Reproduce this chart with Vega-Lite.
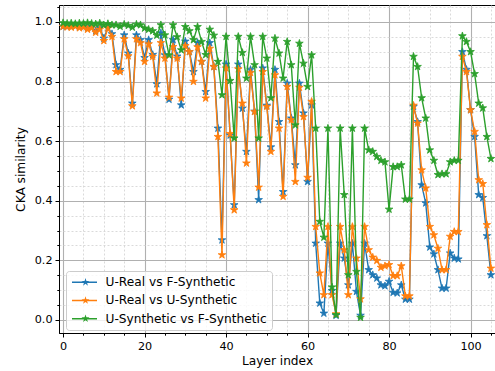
{
"$schema": "https://vega.github.io/schema/vega-lite/v6.json",
"width": 436, "height": 328,
"autosize": {"type": "none"},
"padding": {"left": 59, "top": 5, "right": 0, "bottom": 38},
"config": {
  "font": "DejaVu Sans",
  "view": {"stroke": "#000000", "strokeWidth": 1},
  "axis": {"domainColor": "#000000", "tickColor": "#000000", "labelColor": "#000000", "titleColor": "#000000", "labelFontSize": 11.2, "titleFontSize": 12.2, "titleFontWeight": "normal", "labelFont": "DejaVu Sans", "titleFont": "DejaVu Sans", "domainWidth": 1, "tickWidth": 1, "labelOverlap": false, "labelFlush": false}
},
"data": {"values": [
{"layer":0,"series":"U-Real vs F-Synthetic","cka":0.985},{"layer":1,"series":"U-Real vs F-Synthetic","cka":0.985},{"layer":2,"series":"U-Real vs F-Synthetic","cka":0.985},{"layer":3,"series":"U-Real vs F-Synthetic","cka":0.987},{"layer":4,"series":"U-Real vs F-Synthetic","cka":0.983},{"layer":5,"series":"U-Real vs F-Synthetic","cka":0.985},{"layer":6,"series":"U-Real vs F-Synthetic","cka":0.98},{"layer":7,"series":"U-Real vs F-Synthetic","cka":0.983},{"layer":8,"series":"U-Real vs F-Synthetic","cka":0.97},{"layer":9,"series":"U-Real vs F-Synthetic","cka":0.98},
{"layer":10,"series":"U-Real vs F-Synthetic","cka":0.945},{"layer":11,"series":"U-Real vs F-Synthetic","cka":0.98},{"layer":12,"series":"U-Real vs F-Synthetic","cka":0.96},{"layer":13,"series":"U-Real vs F-Synthetic","cka":0.856},{"layer":14,"series":"U-Real vs F-Synthetic","cka":0.84},{"layer":15,"series":"U-Real vs F-Synthetic","cka":0.956},{"layer":16,"series":"U-Real vs F-Synthetic","cka":0.895},{"layer":17,"series":"U-Real vs F-Synthetic","cka":0.727},{"layer":18,"series":"U-Real vs F-Synthetic","cka":0.956},{"layer":19,"series":"U-Real vs F-Synthetic","cka":0.94},
{"layer":20,"series":"U-Real vs F-Synthetic","cka":0.88},{"layer":21,"series":"U-Real vs F-Synthetic","cka":0.94},{"layer":22,"series":"U-Real vs F-Synthetic","cka":0.89},{"layer":23,"series":"U-Real vs F-Synthetic","cka":0.792},{"layer":24,"series":"U-Real vs F-Synthetic","cka":0.963},{"layer":25,"series":"U-Real vs F-Synthetic","cka":0.889},{"layer":26,"series":"U-Real vs F-Synthetic","cka":0.74},{"layer":27,"series":"U-Real vs F-Synthetic","cka":0.94},{"layer":28,"series":"U-Real vs F-Synthetic","cka":0.885},{"layer":29,"series":"U-Real vs F-Synthetic","cka":0.721},
{"layer":30,"series":"U-Real vs F-Synthetic","cka":0.935},{"layer":31,"series":"U-Real vs F-Synthetic","cka":0.9},{"layer":32,"series":"U-Real vs F-Synthetic","cka":0.833},{"layer":33,"series":"U-Real vs F-Synthetic","cka":0.93},{"layer":34,"series":"U-Real vs F-Synthetic","cka":0.867},{"layer":35,"series":"U-Real vs F-Synthetic","cka":0.766},{"layer":36,"series":"U-Real vs F-Synthetic","cka":0.93},{"layer":37,"series":"U-Real vs F-Synthetic","cka":0.85},{"layer":38,"series":"U-Real vs F-Synthetic","cka":0.643},{"layer":39,"series":"U-Real vs F-Synthetic","cka":0.268},
{"layer":40,"series":"U-Real vs F-Synthetic","cka":0.858},{"layer":41,"series":"U-Real vs F-Synthetic","cka":0.62},{"layer":42,"series":"U-Real vs F-Synthetic","cka":0.386},{"layer":43,"series":"U-Real vs F-Synthetic","cka":0.858},{"layer":44,"series":"U-Real vs F-Synthetic","cka":0.71},{"layer":45,"series":"U-Real vs F-Synthetic","cka":0.565},{"layer":46,"series":"U-Real vs F-Synthetic","cka":0.84},{"layer":47,"series":"U-Real vs F-Synthetic","cka":0.7},{"layer":48,"series":"U-Real vs F-Synthetic","cka":0.403},{"layer":49,"series":"U-Real vs F-Synthetic","cka":0.845},
{"layer":50,"series":"U-Real vs F-Synthetic","cka":0.72},{"layer":51,"series":"U-Real vs F-Synthetic","cka":0.58},{"layer":52,"series":"U-Real vs F-Synthetic","cka":0.84},{"layer":53,"series":"U-Real vs F-Synthetic","cka":0.665},{"layer":54,"series":"U-Real vs F-Synthetic","cka":0.43},{"layer":55,"series":"U-Real vs F-Synthetic","cka":0.794},{"layer":56,"series":"U-Real vs F-Synthetic","cka":0.677},{"layer":57,"series":"U-Real vs F-Synthetic","cka":0.52},{"layer":58,"series":"U-Real vs F-Synthetic","cka":0.794},{"layer":59,"series":"U-Real vs F-Synthetic","cka":0.694},
{"layer":60,"series":"U-Real vs F-Synthetic","cka":0.464},{"layer":61,"series":"U-Real vs F-Synthetic","cka":0.721},{"layer":62,"series":"U-Real vs F-Synthetic","cka":0.257},{"layer":63,"series":"U-Real vs F-Synthetic","cka":0.056},{"layer":64,"series":"U-Real vs F-Synthetic","cka":0.022},{"layer":65,"series":"U-Real vs F-Synthetic","cka":0.257},{"layer":66,"series":"U-Real vs F-Synthetic","cka":0.098},{"layer":67,"series":"U-Real vs F-Synthetic","cka":0.015},{"layer":68,"series":"U-Real vs F-Synthetic","cka":0.257},{"layer":69,"series":"U-Real vs F-Synthetic","cka":0.207},
{"layer":70,"series":"U-Real vs F-Synthetic","cka":0.117},{"layer":71,"series":"U-Real vs F-Synthetic","cka":0.257},{"layer":72,"series":"U-Real vs F-Synthetic","cka":0.095},{"layer":73,"series":"U-Real vs F-Synthetic","cka":0.015},{"layer":74,"series":"U-Real vs F-Synthetic","cka":0.257},{"layer":75,"series":"U-Real vs F-Synthetic","cka":0.168},{"layer":76,"series":"U-Real vs F-Synthetic","cka":0.151},{"layer":77,"series":"U-Real vs F-Synthetic","cka":0.14},{"layer":78,"series":"U-Real vs F-Synthetic","cka":0.117},{"layer":79,"series":"U-Real vs F-Synthetic","cka":0.114},
{"layer":80,"series":"U-Real vs F-Synthetic","cka":0.129},{"layer":81,"series":"U-Real vs F-Synthetic","cka":0.092},{"layer":82,"series":"U-Real vs F-Synthetic","cka":0.09},{"layer":83,"series":"U-Real vs F-Synthetic","cka":0.117},{"layer":84,"series":"U-Real vs F-Synthetic","cka":0.069},{"layer":85,"series":"U-Real vs F-Synthetic","cka":0.069},{"layer":86,"series":"U-Real vs F-Synthetic","cka":0.716},{"layer":87,"series":"U-Real vs F-Synthetic","cka":0.665},{"layer":88,"series":"U-Real vs F-Synthetic","cka":0.453},{"layer":89,"series":"U-Real vs F-Synthetic","cka":0.392},
{"layer":90,"series":"U-Real vs F-Synthetic","cka":0.244},{"layer":91,"series":"U-Real vs F-Synthetic","cka":0.221},{"layer":92,"series":"U-Real vs F-Synthetic","cka":0.168},{"layer":93,"series":"U-Real vs F-Synthetic","cka":0.106},{"layer":94,"series":"U-Real vs F-Synthetic","cka":0.106},{"layer":95,"series":"U-Real vs F-Synthetic","cka":0.224},{"layer":96,"series":"U-Real vs F-Synthetic","cka":0.207},{"layer":97,"series":"U-Real vs F-Synthetic","cka":0.204},{"layer":98,"series":"U-Real vs F-Synthetic","cka":0.9},{"layer":99,"series":"U-Real vs F-Synthetic","cka":0.84},
{"layer":100,"series":"U-Real vs F-Synthetic","cka":0.705},{"layer":101,"series":"U-Real vs F-Synthetic","cka":0.615},{"layer":102,"series":"U-Real vs F-Synthetic","cka":0.42},{"layer":103,"series":"U-Real vs F-Synthetic","cka":0.41},{"layer":104,"series":"U-Real vs F-Synthetic","cka":0.282},{"layer":105,"series":"U-Real vs F-Synthetic","cka":0.151},
{"layer":0,"series":"U-Real vs U-Synthetic","cka":0.985},{"layer":1,"series":"U-Real vs U-Synthetic","cka":0.983},{"layer":2,"series":"U-Real vs U-Synthetic","cka":0.982},{"layer":3,"series":"U-Real vs U-Synthetic","cka":0.985},{"layer":4,"series":"U-Real vs U-Synthetic","cka":0.98},{"layer":5,"series":"U-Real vs U-Synthetic","cka":0.982},{"layer":6,"series":"U-Real vs U-Synthetic","cka":0.975},{"layer":7,"series":"U-Real vs U-Synthetic","cka":0.98},{"layer":8,"series":"U-Real vs U-Synthetic","cka":0.965},{"layer":9,"series":"U-Real vs U-Synthetic","cka":0.975},
{"layer":10,"series":"U-Real vs U-Synthetic","cka":0.937},{"layer":11,"series":"U-Real vs U-Synthetic","cka":0.979},{"layer":12,"series":"U-Real vs U-Synthetic","cka":0.951},{"layer":13,"series":"U-Real vs U-Synthetic","cka":0.833},{"layer":14,"series":"U-Real vs U-Synthetic","cka":0.833},{"layer":15,"series":"U-Real vs U-Synthetic","cka":0.943},{"layer":16,"series":"U-Real vs U-Synthetic","cka":0.886},{"layer":17,"series":"U-Real vs U-Synthetic","cka":0.718},{"layer":18,"series":"U-Real vs U-Synthetic","cka":0.943},{"layer":19,"series":"U-Real vs U-Synthetic","cka":0.93},
{"layer":20,"series":"U-Real vs U-Synthetic","cka":0.867},{"layer":21,"series":"U-Real vs U-Synthetic","cka":0.926},{"layer":22,"series":"U-Real vs U-Synthetic","cka":0.884},{"layer":23,"series":"U-Real vs U-Synthetic","cka":0.761},{"layer":24,"series":"U-Real vs U-Synthetic","cka":0.93},{"layer":25,"series":"U-Real vs U-Synthetic","cka":0.878},{"layer":26,"series":"U-Real vs U-Synthetic","cka":0.747},{"layer":27,"series":"U-Real vs U-Synthetic","cka":0.917},{"layer":28,"series":"U-Real vs U-Synthetic","cka":0.878},{"layer":29,"series":"U-Real vs U-Synthetic","cka":0.744},
{"layer":30,"series":"U-Real vs U-Synthetic","cka":0.92},{"layer":31,"series":"U-Real vs U-Synthetic","cka":0.9},{"layer":32,"series":"U-Real vs U-Synthetic","cka":0.8},{"layer":33,"series":"U-Real vs U-Synthetic","cka":0.916},{"layer":34,"series":"U-Real vs U-Synthetic","cka":0.867},{"layer":35,"series":"U-Real vs U-Synthetic","cka":0.744},{"layer":36,"series":"U-Real vs U-Synthetic","cka":0.911},{"layer":37,"series":"U-Real vs U-Synthetic","cka":0.85},{"layer":38,"series":"U-Real vs U-Synthetic","cka":0.615},{"layer":39,"series":"U-Real vs U-Synthetic","cka":0.218},
{"layer":40,"series":"U-Real vs U-Synthetic","cka":0.845},{"layer":41,"series":"U-Real vs U-Synthetic","cka":0.625},{"layer":42,"series":"U-Real vs U-Synthetic","cka":0.369},{"layer":43,"series":"U-Real vs U-Synthetic","cka":0.842},{"layer":44,"series":"U-Real vs U-Synthetic","cka":0.727},{"layer":45,"series":"U-Real vs U-Synthetic","cka":0.526},{"layer":46,"series":"U-Real vs U-Synthetic","cka":0.83},{"layer":47,"series":"U-Real vs U-Synthetic","cka":0.699},{"layer":48,"series":"U-Real vs U-Synthetic","cka":0.445},{"layer":49,"series":"U-Real vs U-Synthetic","cka":0.833},
{"layer":50,"series":"U-Real vs U-Synthetic","cka":0.716},{"layer":51,"series":"U-Real vs U-Synthetic","cka":0.565},{"layer":52,"series":"U-Real vs U-Synthetic","cka":0.822},{"layer":53,"series":"U-Real vs U-Synthetic","cka":0.643},{"layer":54,"series":"U-Real vs U-Synthetic","cka":0.414},{"layer":55,"series":"U-Real vs U-Synthetic","cka":0.783},{"layer":56,"series":"U-Real vs U-Synthetic","cka":0.671},{"layer":57,"series":"U-Real vs U-Synthetic","cka":0.464},{"layer":58,"series":"U-Real vs U-Synthetic","cka":0.78},{"layer":59,"series":"U-Real vs U-Synthetic","cka":0.682},
{"layer":60,"series":"U-Real vs U-Synthetic","cka":0.478},{"layer":61,"series":"U-Real vs U-Synthetic","cka":0.733},{"layer":62,"series":"U-Real vs U-Synthetic","cka":0.313},{"layer":63,"series":"U-Real vs U-Synthetic","cka":0.157},{"layer":64,"series":"U-Real vs U-Synthetic","cka":0.084},{"layer":65,"series":"U-Real vs U-Synthetic","cka":0.313},{"layer":66,"series":"U-Real vs U-Synthetic","cka":0.084},{"layer":67,"series":"U-Real vs U-Synthetic","cka":0.02},{"layer":68,"series":"U-Real vs U-Synthetic","cka":0.313},{"layer":69,"series":"U-Real vs U-Synthetic","cka":0.235},
{"layer":70,"series":"U-Real vs U-Synthetic","cka":0.084},{"layer":71,"series":"U-Real vs U-Synthetic","cka":0.313},{"layer":72,"series":"U-Real vs U-Synthetic","cka":0.207},{"layer":73,"series":"U-Real vs U-Synthetic","cka":0.07},{"layer":74,"series":"U-Real vs U-Synthetic","cka":0.313},{"layer":75,"series":"U-Real vs U-Synthetic","cka":0.235},{"layer":76,"series":"U-Real vs U-Synthetic","cka":0.21},{"layer":77,"series":"U-Real vs U-Synthetic","cka":0.199},{"layer":78,"series":"U-Real vs U-Synthetic","cka":0.176},{"layer":79,"series":"U-Real vs U-Synthetic","cka":0.181},
{"layer":80,"series":"U-Real vs U-Synthetic","cka":0.185},{"layer":81,"series":"U-Real vs U-Synthetic","cka":0.148},{"layer":82,"series":"U-Real vs U-Synthetic","cka":0.148},{"layer":83,"series":"U-Real vs U-Synthetic","cka":0.181},{"layer":84,"series":"U-Real vs U-Synthetic","cka":0.08},{"layer":85,"series":"U-Real vs U-Synthetic","cka":0.08},{"layer":86,"series":"U-Real vs U-Synthetic","cka":0.72},{"layer":87,"series":"U-Real vs U-Synthetic","cka":0.66},{"layer":88,"series":"U-Real vs U-Synthetic","cka":0.503},{"layer":89,"series":"U-Real vs U-Synthetic","cka":0.442},
{"layer":90,"series":"U-Real vs U-Synthetic","cka":0.313},{"layer":91,"series":"U-Real vs U-Synthetic","cka":0.285},{"layer":92,"series":"U-Real vs U-Synthetic","cka":0.24},{"layer":93,"series":"U-Real vs U-Synthetic","cka":0.168},{"layer":94,"series":"U-Real vs U-Synthetic","cka":0.168},{"layer":95,"series":"U-Real vs U-Synthetic","cka":0.28},{"layer":96,"series":"U-Real vs U-Synthetic","cka":0.296},{"layer":97,"series":"U-Real vs U-Synthetic","cka":0.296},{"layer":98,"series":"U-Real vs U-Synthetic","cka":0.884},{"layer":99,"series":"U-Real vs U-Synthetic","cka":0.833},
{"layer":100,"series":"U-Real vs U-Synthetic","cka":0.705},{"layer":101,"series":"U-Real vs U-Synthetic","cka":0.632},{"layer":102,"series":"U-Real vs U-Synthetic","cka":0.47},{"layer":103,"series":"U-Real vs U-Synthetic","cka":0.457},{"layer":104,"series":"U-Real vs U-Synthetic","cka":0.319},{"layer":105,"series":"U-Real vs U-Synthetic","cka":0.173},
{"layer":0,"series":"U-Synthetic vs F-Synthetic","cka":0.997},{"layer":1,"series":"U-Synthetic vs F-Synthetic","cka":0.995},{"layer":2,"series":"U-Synthetic vs F-Synthetic","cka":0.996},{"layer":3,"series":"U-Synthetic vs F-Synthetic","cka":0.994},{"layer":4,"series":"U-Synthetic vs F-Synthetic","cka":0.996},{"layer":5,"series":"U-Synthetic vs F-Synthetic","cka":0.995},{"layer":6,"series":"U-Synthetic vs F-Synthetic","cka":0.997},{"layer":7,"series":"U-Synthetic vs F-Synthetic","cka":0.995},{"layer":8,"series":"U-Synthetic vs F-Synthetic","cka":0.993},{"layer":9,"series":"U-Synthetic vs F-Synthetic","cka":0.996},
{"layer":10,"series":"U-Synthetic vs F-Synthetic","cka":0.99},{"layer":11,"series":"U-Synthetic vs F-Synthetic","cka":0.994},{"layer":12,"series":"U-Synthetic vs F-Synthetic","cka":0.99},{"layer":13,"series":"U-Synthetic vs F-Synthetic","cka":0.99},{"layer":14,"series":"U-Synthetic vs F-Synthetic","cka":0.985},{"layer":15,"series":"U-Synthetic vs F-Synthetic","cka":0.992},{"layer":16,"series":"U-Synthetic vs F-Synthetic","cka":0.988},{"layer":17,"series":"U-Synthetic vs F-Synthetic","cka":0.982},{"layer":18,"series":"U-Synthetic vs F-Synthetic","cka":0.992},{"layer":19,"series":"U-Synthetic vs F-Synthetic","cka":0.99},
{"layer":20,"series":"U-Synthetic vs F-Synthetic","cka":0.979},{"layer":21,"series":"U-Synthetic vs F-Synthetic","cka":0.975},{"layer":22,"series":"U-Synthetic vs F-Synthetic","cka":0.97},{"layer":23,"series":"U-Synthetic vs F-Synthetic","cka":0.955},{"layer":24,"series":"U-Synthetic vs F-Synthetic","cka":0.99},{"layer":25,"series":"U-Synthetic vs F-Synthetic","cka":0.956},{"layer":26,"series":"U-Synthetic vs F-Synthetic","cka":0.889},{"layer":27,"series":"U-Synthetic vs F-Synthetic","cka":0.99},{"layer":28,"series":"U-Synthetic vs F-Synthetic","cka":0.95},{"layer":29,"series":"U-Synthetic vs F-Synthetic","cka":0.906},
{"layer":30,"series":"U-Synthetic vs F-Synthetic","cka":0.984},{"layer":31,"series":"U-Synthetic vs F-Synthetic","cka":0.97},{"layer":32,"series":"U-Synthetic vs F-Synthetic","cka":0.94},{"layer":33,"series":"U-Synthetic vs F-Synthetic","cka":0.984},{"layer":34,"series":"U-Synthetic vs F-Synthetic","cka":0.934},{"layer":35,"series":"U-Synthetic vs F-Synthetic","cka":0.89},{"layer":36,"series":"U-Synthetic vs F-Synthetic","cka":0.975},{"layer":37,"series":"U-Synthetic vs F-Synthetic","cka":0.955},{"layer":38,"series":"U-Synthetic vs F-Synthetic","cka":0.867},{"layer":39,"series":"U-Synthetic vs F-Synthetic","cka":0.755},
{"layer":40,"series":"U-Synthetic vs F-Synthetic","cka":0.951},{"layer":41,"series":"U-Synthetic vs F-Synthetic","cka":0.803},{"layer":42,"series":"U-Synthetic vs F-Synthetic","cka":0.61},{"layer":43,"series":"U-Synthetic vs F-Synthetic","cka":0.951},{"layer":44,"series":"U-Synthetic vs F-Synthetic","cka":0.897},{"layer":45,"series":"U-Synthetic vs F-Synthetic","cka":0.811},{"layer":46,"series":"U-Synthetic vs F-Synthetic","cka":0.951},{"layer":47,"series":"U-Synthetic vs F-Synthetic","cka":0.856},{"layer":48,"series":"U-Synthetic vs F-Synthetic","cka":0.61},{"layer":49,"series":"U-Synthetic vs F-Synthetic","cka":0.951},
{"layer":50,"series":"U-Synthetic vs F-Synthetic","cka":0.878},{"layer":51,"series":"U-Synthetic vs F-Synthetic","cka":0.745},{"layer":52,"series":"U-Synthetic vs F-Synthetic","cka":0.945},{"layer":53,"series":"U-Synthetic vs F-Synthetic","cka":0.895},{"layer":54,"series":"U-Synthetic vs F-Synthetic","cka":0.811},{"layer":55,"series":"U-Synthetic vs F-Synthetic","cka":0.934},{"layer":56,"series":"U-Synthetic vs F-Synthetic","cka":0.856},{"layer":57,"series":"U-Synthetic vs F-Synthetic","cka":0.654},{"layer":58,"series":"U-Synthetic vs F-Synthetic","cka":0.928},{"layer":59,"series":"U-Synthetic vs F-Synthetic","cka":0.861},
{"layer":60,"series":"U-Synthetic vs F-Synthetic","cka":0.783},{"layer":61,"series":"U-Synthetic vs F-Synthetic","cka":0.889},{"layer":62,"series":"U-Synthetic vs F-Synthetic","cka":0.643},{"layer":63,"series":"U-Synthetic vs F-Synthetic","cka":0.33},{"layer":64,"series":"U-Synthetic vs F-Synthetic","cka":0.277},{"layer":65,"series":"U-Synthetic vs F-Synthetic","cka":0.643},{"layer":66,"series":"U-Synthetic vs F-Synthetic","cka":0.11},{"layer":67,"series":"U-Synthetic vs F-Synthetic","cka":0.017},{"layer":68,"series":"U-Synthetic vs F-Synthetic","cka":0.643},{"layer":69,"series":"U-Synthetic vs F-Synthetic","cka":0.42},
{"layer":70,"series":"U-Synthetic vs F-Synthetic","cka":0.151},{"layer":71,"series":"U-Synthetic vs F-Synthetic","cka":0.643},{"layer":72,"series":"U-Synthetic vs F-Synthetic","cka":0.162},{"layer":73,"series":"U-Synthetic vs F-Synthetic","cka":0.008},{"layer":74,"series":"U-Synthetic vs F-Synthetic","cka":0.643},{"layer":75,"series":"U-Synthetic vs F-Synthetic","cka":0.57},{"layer":76,"series":"U-Synthetic vs F-Synthetic","cka":0.565},{"layer":77,"series":"U-Synthetic vs F-Synthetic","cka":0.548},{"layer":78,"series":"U-Synthetic vs F-Synthetic","cka":0.535},{"layer":79,"series":"U-Synthetic vs F-Synthetic","cka":0.53},
{"layer":80,"series":"U-Synthetic vs F-Synthetic","cka":0.371},{"layer":81,"series":"U-Synthetic vs F-Synthetic","cka":0.514},{"layer":82,"series":"U-Synthetic vs F-Synthetic","cka":0.514},{"layer":83,"series":"U-Synthetic vs F-Synthetic","cka":0.52},{"layer":84,"series":"U-Synthetic vs F-Synthetic","cka":0.405},{"layer":85,"series":"U-Synthetic vs F-Synthetic","cka":0.405},{"layer":86,"series":"U-Synthetic vs F-Synthetic","cka":0.884},{"layer":87,"series":"U-Synthetic vs F-Synthetic","cka":0.85},{"layer":88,"series":"U-Synthetic vs F-Synthetic","cka":0.745},{"layer":89,"series":"U-Synthetic vs F-Synthetic","cka":0.677},
{"layer":90,"series":"U-Synthetic vs F-Synthetic","cka":0.57},{"layer":91,"series":"U-Synthetic vs F-Synthetic","cka":0.535},{"layer":92,"series":"U-Synthetic vs F-Synthetic","cka":0.487},{"layer":93,"series":"U-Synthetic vs F-Synthetic","cka":0.49},{"layer":94,"series":"U-Synthetic vs F-Synthetic","cka":0.49},{"layer":95,"series":"U-Synthetic vs F-Synthetic","cka":0.53},{"layer":96,"series":"U-Synthetic vs F-Synthetic","cka":0.535},{"layer":97,"series":"U-Synthetic vs F-Synthetic","cka":0.535},{"layer":98,"series":"U-Synthetic vs F-Synthetic","cka":0.953},{"layer":99,"series":"U-Synthetic vs F-Synthetic","cka":0.934},
{"layer":100,"series":"U-Synthetic vs F-Synthetic","cka":0.9},{"layer":101,"series":"U-Synthetic vs F-Synthetic","cka":0.826},{"layer":102,"series":"U-Synthetic vs F-Synthetic","cka":0.727},{"layer":103,"series":"U-Synthetic vs F-Synthetic","cka":0.711},{"layer":104,"series":"U-Synthetic vs F-Synthetic","cka":0.615},{"layer":105,"series":"U-Synthetic vs F-Synthetic","cka":0.541}
]},
"encoding": {
  "x": {"field": "layer", "type": "quantitative",
    "scale": {"domain": [-1, 106], "nice": false, "zero": false},
    "axis": {"title": "Layer index", "values": [0,5,10,15,20,25,30,35,40,45,50,55,60,65,70,75,80,85,90,95,100,105],
      "labelExpr": "datum.value % 20 === 0 ? datum.label : ''", "format": "d",
      "grid": true,
      "gridColor": {"condition": {"test": "datum.value % 20 === 0", "value": "#b0b0b0"}, "value": "#d6d6d6"},
      "gridDash": {"condition": {"test": "datum.value % 20 === 0", "value": []}, "value": [2, 2]},
      "gridWidth": {"condition": {"test": "datum.value % 20 === 0", "value": 1.1}, "value": 0.9},
      "tickSize": {"condition": {"test": "datum.value % 20 === 0", "value": 4}, "value": 2.2},
      "labelPadding": 3, "titlePadding": 3}},
  "y": {"field": "cka", "type": "quantitative",
    "scale": {"domain": [-0.044, 1.057], "nice": false, "zero": false},
    "axis": {"title": "CKA similarity", "values": [0,0.05,0.1,0.15,0.2,0.25,0.3,0.35,0.4,0.45,0.5,0.55,0.6,0.65,0.7,0.75,0.8,0.85,0.9,0.95,1.0,1.05],
      "labelExpr": "abs(datum.value*5 - round(datum.value*5)) < 0.001 ? format(datum.value, '.1f') : ''",
      "grid": true,
      "gridColor": {"condition": {"test": "abs(datum.value*5 - round(datum.value*5)) < 0.001", "value": "#b0b0b0"}, "value": "#d6d6d6"},
      "gridDash": {"condition": {"test": "abs(datum.value*5 - round(datum.value*5)) < 0.001", "value": []}, "value": [2, 2]},
      "gridWidth": {"condition": {"test": "abs(datum.value*5 - round(datum.value*5)) < 0.001", "value": 1.1}, "value": 0.9},
      "tickSize": {"condition": {"test": "abs(datum.value*5 - round(datum.value*5)) < 0.001", "value": 4}, "value": 2.2},
      "labelPadding": 3, "titlePadding": 7}}
},
"layer": [
  {"transform": [{"filter": "datum.series === 'U-Real vs F-Synthetic'"}],
   "mark": {"type": "line", "strokeWidth": 1.4},
   "encoding": {"stroke": {"field": "series", "type": "nominal",
     "scale": {"domain": ["U-Real vs F-Synthetic", "U-Real vs U-Synthetic", "U-Synthetic vs F-Synthetic"], "range": ["#1f77b4", "#ff7f0e", "#2ca02c"]},
     "legend": {"title": null, "orient": "none", "legendX": 7, "legendY": 266, "zindex": 1, "symbolType": "stroke", "symbolSize": 625, "symbolStrokeWidth": 1.5, "labelFontSize": 12.2, "labelFont": "DejaVu Sans", "labelColor": "#000000", "labelLimit": 400, "labelOffset": 7.5, "padding": 5, "clipHeight": 12.5, "rowPadding": 5.2, "fillColor": "rgba(255,255,255,0.8)", "strokeColor": "#cccccc", "cornerRadius": 3}}}},
  {"transform": [{"filter": "datum.series === 'U-Real vs F-Synthetic'"}],
   "mark": {"type": "point", "shape": "M0,-1L0.2245,-0.309L0.951,-0.309L0.363,0.118L0.588,0.809L0,0.382L-0.588,0.809L-0.363,0.118L-0.951,-0.309L-0.2245,-0.309Z", "filled": true, "size": 64, "opacity": 1, "stroke": "#1f77b4", "strokeWidth": 0.8},
   "encoding": {"fill": {"field": "series", "type": "nominal",
     "scale": {"range": ["#1f77b4", "#ff7f0e", "#2ca02c"]},
     "legend": {"title": null, "orient": "none", "legendX": 7, "legendY": 266, "zindex": 2, "symbolType": "M0,-1L0.2245,-0.309L0.951,-0.309L0.363,0.118L0.588,0.809L0,0.382L-0.588,0.809L-0.363,0.118L-0.951,-0.309L-0.2245,-0.309Z", "symbolSize": 70, "symbolStrokeWidth": 0, "symbolOffset": 8.4, "labelFontSize": 12.2, "labelFont": "DejaVu Sans", "labelExpr": "''", "labelOffset": 7.5, "padding": 5, "clipHeight": 12.5, "rowPadding": 5.2}}}},
  {"transform": [{"filter": "datum.series === 'U-Real vs U-Synthetic'"}],
   "mark": {"type": "line", "strokeWidth": 1.4},
   "encoding": {"stroke": {"field": "series", "type": "nominal",
     "scale": {"domain": ["U-Real vs F-Synthetic", "U-Real vs U-Synthetic", "U-Synthetic vs F-Synthetic"], "range": ["#1f77b4", "#ff7f0e", "#2ca02c"]}}}},
  {"transform": [{"filter": "datum.series === 'U-Real vs U-Synthetic'"}],
   "mark": {"type": "point", "shape": "M0,-1L0.2245,-0.309L0.951,-0.309L0.363,0.118L0.588,0.809L0,0.382L-0.588,0.809L-0.363,0.118L-0.951,-0.309L-0.2245,-0.309Z", "filled": true, "size": 64, "opacity": 1, "stroke": "#ff7f0e", "strokeWidth": 0.8},
   "encoding": {"fill": {"field": "series", "type": "nominal"}}},
  {"transform": [{"filter": "datum.series === 'U-Synthetic vs F-Synthetic'"}],
   "mark": {"type": "line", "strokeWidth": 1.4},
   "encoding": {"stroke": {"field": "series", "type": "nominal",
     "scale": {"domain": ["U-Real vs F-Synthetic", "U-Real vs U-Synthetic", "U-Synthetic vs F-Synthetic"], "range": ["#1f77b4", "#ff7f0e", "#2ca02c"]}}}},
  {"transform": [{"filter": "datum.series === 'U-Synthetic vs F-Synthetic'"}],
   "mark": {"type": "point", "shape": "M0,-1L0.2245,-0.309L0.951,-0.309L0.363,0.118L0.588,0.809L0,0.382L-0.588,0.809L-0.363,0.118L-0.951,-0.309L-0.2245,-0.309Z", "filled": true, "size": 64, "opacity": 1, "stroke": "#2ca02c", "strokeWidth": 0.8},
   "encoding": {"fill": {"field": "series", "type": "nominal"}}}
]
}
